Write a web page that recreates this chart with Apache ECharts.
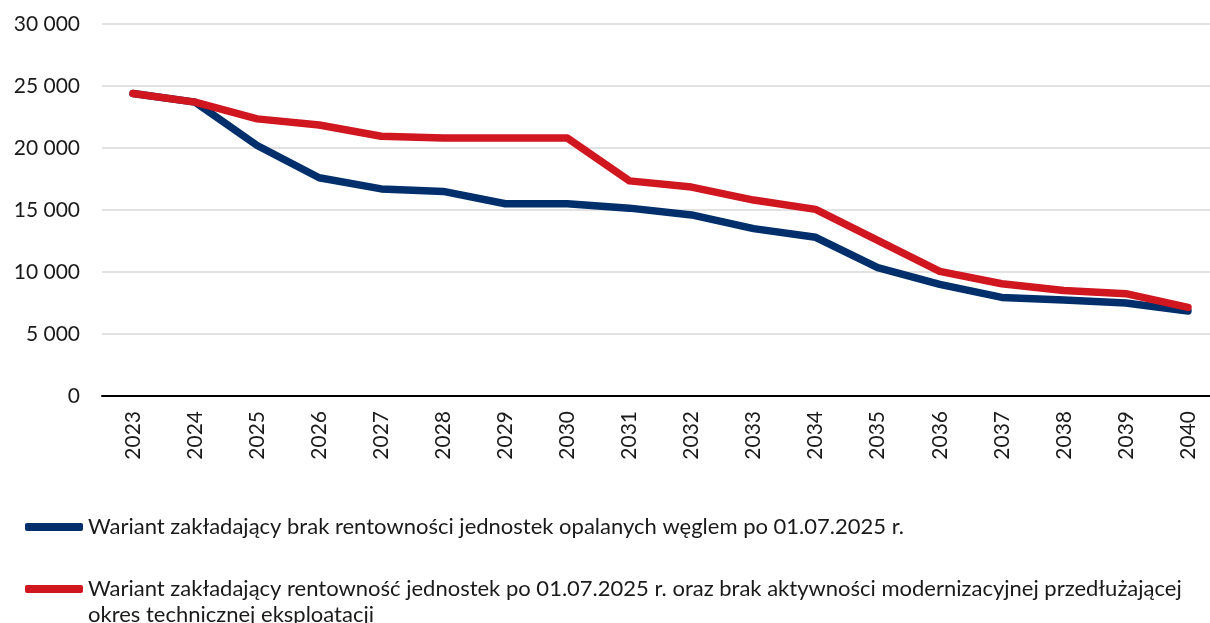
<!DOCTYPE html>
<html>
<head>
<meta charset="utf-8">
<script src="https://cdn.jsdelivr.net/npm/echarts@6/dist/echarts.min.js"></script>
<style>
  html, body { margin: 0; padding: 0; background: #fff; }
  #chart { width: 1210px; height: 623px; }
</style>
</head>
<body>
<div id="chart"></div>
<script>
  // dane
  const years = ['2023', '2024', '2025', '2026', '2027', '2028', '2029', '2030', '2031',
    '2032', '2033', '2034', '2035', '2036', '2037', '2038', '2039', '2040']
  const wariantBrak = [24400, 23700, 20200, 17600, 16700, 16500, 15500, 15500, 15150,
    14600, 13500, 12800, 10350, 9000, 7950, 7750, 7500, 6850]
  const wariantRent = [24400, 23700, 22350, 21850, 20950, 20800, 20800, 20800, 17350,
    16850, 15800, 15050, 12550, 10050, 9050, 8500, 8250, 7150]
  const names = [
    'Wariant zakładający brak rentowności jednostek opalanych węglem po 01.07.2025 r.',
    'Wariant zakładający rentowność jednostek po 01.07.2025 r. oraz brak aktywności modernizacyjnej przedłużającej okres technicznej eksploatacji'
  ]
  const colors = ['#002f6c', '#d0161f']

  const font = 'Lato, "Open Sans", sans-serif'
  const chart = echarts.init(document.getElementById('chart'))

  const legendBase = {
    left: 20,
    padding: 5,
    icon: 'roundRect',
    itemWidth: 58,
    itemHeight: 8,
    itemGap: 0,
    textStyle: {
      fontFamily: font,
      fontSize: 22,
      color: '#1a1a1a',
      lineHeight: 26
    }
  }

  chart.setOption({
    animation: false,
    grid: { left: 102, width: 1117, top: 24, bottom: 227, outerBoundsMode: 'none' },
    legend: [
      Object.assign({}, legendBase, { data: [names[0]], top: 509 }),
      // pusty pierwszy wiersz, żeby ikona stała przy pierwszej linii tekstu
      Object.assign({}, legendBase, {
        data: [names[1]],
        top: 545,
        formatter: (n) => '\n' + n.replace('przedłużającej ', 'przedłużającej\n')
      })
    ],
    xAxis: {
      type: 'category',
      data: years,
      boundaryGap: true,
      axisLine: { lineStyle: { color: '#000', width: 2 } },
      axisTick: { show: false },
      axisLabel: {
        rotate: 90,
        margin: 15,
        fontFamily: font,
        fontSize: 21,
        color: '#1a1a1a'
      }
    },
    yAxis: {
      type: 'value',
      min: 0,
      max: 30000,
      interval: 5000,
      axisLine: { show: false },
      axisTick: { show: false },
      splitLine: { lineStyle: { color: '#d9d9d9', width: 1.5 } },
      axisLabel: {
        margin: 22,
        fontFamily: font,
        fontSize: 21,
        color: '#1a1a1a',
        formatter: (v) => String(v).replace(/\B(?=(\d{3})+(?!\d))/g, ' ')
      }
    },
    series: [{
      name: names[0],
      type: 'line',
      data: wariantBrak,
      symbol: 'none',
      color: colors[0],
      lineStyle: { width: 7.5, cap: 'round', join: 'round' }
    }, {
      name: names[1],
      type: 'line',
      data: wariantRent,
      symbol: 'none',
      color: colors[1],
      lineStyle: { width: 7.5, cap: 'round', join: 'round' }
    }]
  })
</script>
</body>
</html>
